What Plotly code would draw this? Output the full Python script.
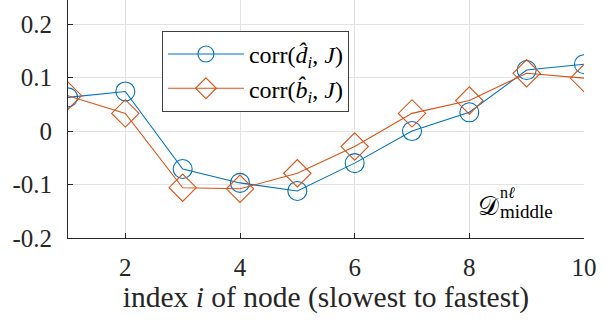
import plotly.graph_objects as go

idx = list(range(1, 11))
corr_d = [0.063, 0.074, -0.071, -0.097, -0.112, -0.060, 0.000, 0.035, 0.114, 0.125]
corr_b = [0.066, 0.033, -0.106, -0.108, -0.079, -0.029, 0.033, 0.057, 0.108, 0.099]
xticks = [2, 4, 6, 8, 10]
yticks = [-0.2, -0.1, 0, 0.1, 0.2]
yticklabels = ["-0.2", "-0.1", "0", "0.1", "0.2"]

blue = "#0072BD"
orange = "#D95319"
font = "Liberation Serif"
txt = "#262626"

fig = go.Figure()
fig.add_trace(go.Scatter(
    x=idx, y=corr_d, mode="lines+markers",
    name="corr(<i>d̂<sub>i</sub></i>, <i>J</i>)",
    line=dict(color=blue, width=1.1),
    marker=dict(symbol="circle-open", size=19, color=blue, line=dict(width=1.1)),
))
fig.add_trace(go.Scatter(
    x=idx, y=corr_b, mode="lines+markers",
    name="corr(<i>b̂<sub>i</sub></i>, <i>J</i>)",
    line=dict(color=orange, width=1.1),
    marker=dict(symbol="diamond-open", size=21, color=orange, line=dict(width=1.1)),
))

fig.update_layout(
    width=613, height=320,
    margin=dict(l=68, r=29, t=0, b=82),
    paper_bgcolor="white", plot_bgcolor="white",
    font=dict(family=font, size=25, color=txt),
    legend=dict(
        x=0.182, y=0.87, xanchor="left", yanchor="top",
        bgcolor="white", bordercolor="#404040", borderwidth=1,
        font=dict(family=font, size=24, color="black"),
        tracegroupgap=0, itemwidth=76,
    ),
    xaxis=dict(
        range=[1, 10], tickvals=xticks, ticktext=[str(v) for v in xticks],
        showgrid=True, gridcolor="#e3e3e3", gridwidth=1,
        showline=True, linecolor=txt, linewidth=1,
        ticks="inside", ticklen=5, tickcolor=txt,
        zeroline=False, ticklabelstandoff=7,
        title=dict(text="index <i>i</i> of node (slowest to fastest)",
                   font=dict(family=font, size=29.5, color=txt), standoff=2),
        tickfont=dict(family=font, size=25, color=txt),
    ),
    yaxis=dict(
        range=[-0.2, 0.245], tickvals=yticks, ticktext=yticklabels,
        showgrid=True, gridcolor="#e3e3e3", gridwidth=1,
        showline=True, linecolor=txt, linewidth=1,
        ticks="inside", ticklen=5, tickcolor=txt,
        zeroline=False, ticklabelstandoff=10,
        tickfont=dict(family=font, size=25, color=txt),
    ),
    showlegend=True,
)

fig.add_annotation(
    x=0.814, y=0.134, xref="paper", yref="paper", xanchor="center", yanchor="middle",
    text="𝒟", showarrow=False, font=dict(family=font, size=26, color="black"),
)
fig.add_annotation(
    x=0.833, y=0.19, xref="paper", yref="paper", xanchor="left", yanchor="middle",
    text="n<i>ℓ</i>", showarrow=False, font=dict(family=font, size=16, color="black"),
)
fig.add_annotation(
    x=0.833, y=0.113, xref="paper", yref="paper", xanchor="left", yanchor="middle",
    text="middle", showarrow=False, font=dict(family=font, size=19, color="black"),
)

fig.write_html("out.html")
